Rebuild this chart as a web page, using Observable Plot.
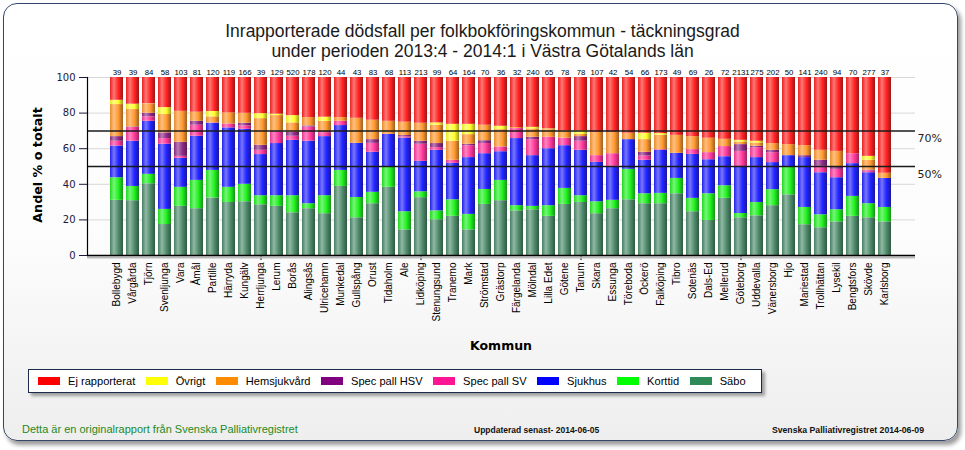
<!DOCTYPE html>
<html><head><meta charset="utf-8">
<script src="https://cdn.jsdelivr.net/npm/d3@7"></script>
<script src="https://cdn.jsdelivr.net/npm/@observablehq/plot@0.6"></script>
<style>
body{margin:0;background:#fff;}
#wrap{position:relative;width:965px;height:450px;overflow:hidden;font-family:"Liberation Sans",Arial,sans-serif;}
#panel{position:absolute;left:3px;top:3px;width:953px;height:436px;border:1.5px solid #34466a;border-radius:14px;background:linear-gradient(#ffffff 0%,#fcfcfc 55%,#eeeeee 100%);box-shadow:3px 4px 4px rgba(0,0,0,0.4);}
#title{position:absolute;left:0;top:21px;width:965px;text-align:center;font-size:17.5px;line-height:20px;color:#1a1a1a;}
#chart{position:absolute;left:0;top:0;}
#ylab{position:absolute;left:37px;top:165px;transform:translate(-50%,-50%) rotate(-90deg);font-family:"DejaVu Sans",sans-serif;font-weight:bold;font-size:12.7px;white-space:nowrap;color:#000;}
#xlab{position:absolute;left:501px;top:338px;transform:translateX(-50%);font-family:"DejaVu Sans",sans-serif;font-weight:bold;font-size:12.5px;color:#000;}
#legend{position:absolute;left:28px;top:369px;width:723px;height:22px;border:1.5px solid #1b2a4a;background:#fff;box-shadow:3px 3px 3px rgba(0,0,0,0.35);display:flex;align-items:center;padding-left:9px;box-sizing:content-box;}
.li{display:flex;align-items:center;flex-shrink:0;white-space:nowrap;margin-right:10.5px;font-size:11.1px;color:#000;}
.sw{width:22px;height:8px;margin-right:8px;flex-shrink:0;}
.foot{position:absolute;top:423px;white-space:nowrap;}
#f1{left:22px;font-size:11px;color:#1e8a1e;}
#f2{left:474px;top:425px;font-size:8.5px;font-weight:bold;color:#111;}
#f3{right:41px;top:425px;font-size:8.7px;font-weight:bold;color:#111;}
</style></head>
<body>
<div id="wrap">
  <div id="panel"></div>
  <div id="title">Inrapporterade dödsfall per folkbokföringskommun - täckningsgrad<br>under perioden 2013:4 - 2014:1 i Västra Götalands län</div>
  <div id="chart"></div>
  <div id="ylab">Andel % o totalt</div>
  <div id="xlab">Kommun</div>
  <div id="legend"></div>
  <div class="foot" id="f1">Detta är en originalrapport från Svenska Palliativregistret</div>
  <div class="foot" id="f2">Uppdaterad senast- 2014-06-05</div>
  <div class="foot" id="f3">Svenska Palliativregistret 2014-06-09</div>
</div>
<script>
const kommuner = ["Bollebygd","Vårgårda","Tjörn","Svenljunga","Vara","Åmål","Partille","Härryda","Kungälv","Herrljunga","Lerum","Borås","Alingsås","Ulricehamn","Munkedal","Gullspång","Orust","Tidaholm","Ale","Lidköping","Stenungsund","Tranemo","Mark","Strömstad","Grästorp","Färgelanda","Mölndal","Lilla Edet","Götene","Tanum","Skara","Essunga","Töreboda","Öckerö","Falköping","Tibro","Sotenäs","Dals-Ed","Mellerud","Göteborg","Uddevalla","Vänersborg","Hjo","Mariestad","Trollhättan","Lysekil","Bengtsfors","Skövde","Karlsborg"];
const antal = [39,39,84,58,103,81,120,119,166,39,129,520,178,120,44,43,83,68,113,213,99,64,164,70,36,32,240,65,78,78,107,42,54,66,173,49,69,26,72,2131,275,202,50,141,240,94,70,277,37];

// series values (% of total), stacked bottom to top
const sabo      = [31,30.8,40.3,17.4,27.6,26.3,32.3,29.8,30.2,28.5,27.6,24,26.3,23.5,38.8,21.2,29.1,38.3,14.4,32.5,20.1,22,14.4,28.7,30.8,25.1,25.7,22,28.7,29.8,23.5,26.3,31.3,29.1,29.1,34.7,24.6,19.7,32.1,21.2,22.3,28,34.1,17.3,15.6,18.9,22,21.2,18.9];
const korttid   = [12.7,8,5.3,8.5,10.7,15.9,15.5,8.5,9.8,5.1,6,9.6,2.8,10.1,9,11.4,6.4,11.2,10.2,3.3,5,9.3,8.7,8.4,11.4,2.9,1.9,6,9,3.8,6.7,4.7,17.1,5.6,5.8,8.6,7.5,15,7.1,2.4,7.5,9,15.4,9.7,7.3,6.8,11.2,7.9,8.1];
const sjukhus   = [17.8,25.4,29.8,36.6,16.3,24.8,26.5,33.4,30.9,23.1,29.3,31.1,35.1,33.2,25.2,30.4,22.5,18.6,41.3,17.1,34,20.5,31.9,20.1,16.1,37.7,28.5,32,24,25.5,22.1,19.1,16.7,18.8,24.2,14.1,24.7,19.1,16.3,25.9,25.2,15.2,6.6,28,23.6,18,18.4,17.4,16.3];
const specSV    = [2.7,7.7,2.5,3.2,1.1,6.2,0.2,2,1.9,2.4,6.5,2.3,8,2.2,2.4,0,5,0,0.7,9.6,1.5,1.7,6.7,5.7,2.7,5.6,9,6.4,4.2,5.1,3.8,7.1,0,2.4,0.4,0,2.7,4,5.7,9,5.6,5.6,0,0,3.6,4.7,5.6,1,0];
const specHSV   = [2.6,0.3,2,3.2,7.9,2.2,0,0.2,1.5,2.8,0.4,2.2,0.6,0.6,0,0,2.1,0,0.8,1.7,2.3,0,0.8,1.6,0,0,1.3,0,0,2.6,0,0,0,2.1,0,0,0,0,0,3.8,0.8,1.3,0,1.1,3.4,1.1,0,0.5,0];
const hemsjuk   = [18,9.8,5.1,10.3,17.4,5.1,3.4,6.2,5.6,15,8.8,5.3,4.7,5.8,2.1,14.1,10.9,7.3,7.5,10.1,10.3,10.7,5.4,8.7,9.7,0.6,4.7,4.3,4.3,1.3,13.1,12,3.6,7.1,8.1,10.1,7.3,8.1,4.1,1.5,1.8,3.8,6.2,5.6,5.6,9,0,5.5,2.9];
const ovrigt    = [2.4,3,0.2,3.9,0,0,3,0,0,2.8,0.8,4.1,0,2.3,0,0,0,0,0,0,1.3,9.5,5.8,0,1.9,0,0.9,0.4,0,1.9,0,0,0,3.6,0.9,0,0,0,0,0.9,1,0,0,0,0,0,0,2.2,0];
const ejRapp    = [12.8,15,14.8,16.9,19,19.5,19.1,19.9,20.1,20.3,20.6,21.4,22.5,22.3,22.5,22.9,24,24.6,25.1,25.7,25.5,26.3,26.3,26.8,27.4,28.1,28,28.9,29.8,30,30.8,30.8,31.3,31.3,31.5,32.5,33.2,34.1,34.7,35.3,35.8,37.1,37.7,38.3,40.9,41.5,42.8,44.3,53.8];

const seriesNames = ["Säbo","Korttid","Sjukhus","Spec pall SV","Spec pall HSV","Hemsjukvård","Övrigt","Ej rapporterat"];
const seriesValues = [sabo,korttid,sjukhus,specSV,specHSV,hemsjuk,ovrigt,ejRapp];
const barColors = ["#4f8c6c","#22f022","#2424ff","#ff3a9c","#8e2c88","#ff9a32","#ffff30","#ff2424"];
const legendColors = ["#2e8b57","#00ff00","#0000ff","#ff1493","#800080","#ff8c00","#ffff00","#ff0000"];
const yTicks = [0,20,40,60,80,100];
const refLines = [70,50];
const xTickIdx = [9,19,29,39];

const rows = [];
kommuner.forEach((k,i) => {
  seriesValues.forEach((vals,s) => rows.push({kommun:k, serie:seriesNames[s], value:vals[i], fill:`url(#grad${s})`}));
});

const chart = Plot.plot({
  width: 965, height: 450,
  marginTop: 77, marginBottom: 195, marginLeft: 87, marginRight: 50,
  style: {background: "transparent", fontFamily: "Liberation Sans, Arial, sans-serif", color: "#000", overflow: "visible"},
  x: {domain: kommuner, padding: 0.18, insetLeft: 8, insetRight: 8, label: null},
  y: {domain: [0,100], label: null},
  color: {type: "identity"},
  marks: [
    Plot.gridY(yTicks.filter(v => v > 0), {stroke: "#d8d8d8", strokeOpacity: 1}),
    Plot.ruleX([0], {frameAnchor: "right", stroke: "#d0d0d0", strokeWidth: 3, dx: -1}),
    Plot.barY(rows, {x: "kommun", y: "value", fill: "fill", z: "serie"}),
    Plot.ruleY(refLines, {stroke: "#1a1a1a", strokeWidth: 1.5}),
    Plot.text(refLines, {y: d => d, text: d => d + "%", frameAnchor: "right", textAnchor: "start", dx: 2, dy: 8, fontSize: 11, fontFamily: "DejaVu Sans, sans-serif", fill: "#222"}),
    Plot.text(kommuner, {x: d => d, text: (d,i) => String(antal[i]), frameAnchor: "top", dy: -8, fontSize: 7.8, fill: "#000"}),
    Plot.axisY({ticks: yTicks, tickSize: 8, tickPadding: 4, fontSize: 10, fontFamily: "DejaVu Sans, sans-serif", color: "#1a1a3a"}),
    Plot.axisX({tickRotate: -90, tickSize: 0, tickPadding: 7, fontSize: 10, fill: "#000"}),
    Plot.axisX(xTickIdx.map(i => kommuner[i]), {tickSize: 5, tickFormat: () => ""}),
    Plot.ruleY([0], {stroke: "#bbbbbb", strokeWidth: 2, dy: 2}),
    Plot.ruleY([0], {stroke: "#000", strokeWidth: 1.5}),
    Plot.frame({anchor: "left", stroke: "#000", strokeWidth: 1.2})
  ]
});

// gradients for the cylinder look
const defs = d3.create("svg:defs");
barColors.forEach((c,s) => {
  const g = defs.append("linearGradient").attr("id", `grad${s}`).attr("x1", 0).attr("x2", 1).attr("y1", 0).attr("y2", 0);
  const stops = [[0, d3.interpolateRgb(c, "#000")(0.1)], [0.3, d3.interpolateRgb(c, "#fff")(0.38)], [0.65, c], [1, d3.interpolateRgb(c, "#000")(0.38)]];
  stops.forEach(([o,col]) => g.append("stop").attr("offset", o).attr("stop-color", col));
});
chart.insertBefore(defs.node(), chart.firstChild);
document.getElementById("chart").appendChild(chart);

// legend
const legend = document.getElementById("legend");
for (let s = seriesNames.length - 1; s >= 0; s--) {
  const item = document.createElement("div");
  item.className = "li";
  item.innerHTML = `<div class="sw" style="background:${legendColors[s]}"></div><span>${seriesNames[s]}</span>`;
  legend.appendChild(item);
}
</script>
</body></html>
